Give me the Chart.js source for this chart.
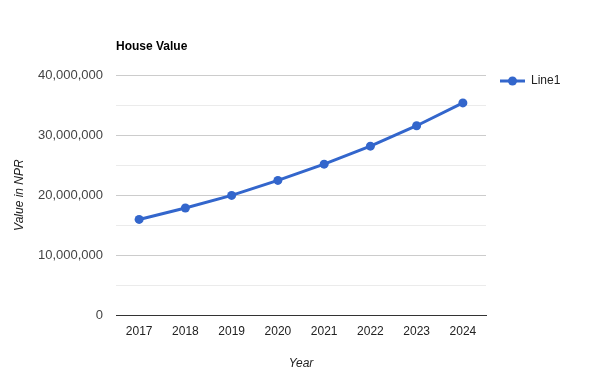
<!DOCTYPE html>
<html>
<head>
<meta charset="utf-8">
<script src="https://cdn.jsdelivr.net/npm/chart.js@4.4.0/dist/chart.umd.min.js"></script>
<style>
  html, body { margin: 0; padding: 0; background: #fff; }
  #wrap { width: 600px; height: 390px; }
</style>
</head>
<body>
<div id="wrap"><canvas id="lineChart" width="600" height="390"></canvas></div>
<script>
const years = ['2017', '2018', '2019', '2020', '2021', '2022', '2023', '2024'];
const houseValues = [15950000, 17850000, 19950000, 22450000, 25150000, 28150000, 31550000, 35350000];
const seriesName = 'Line1';
const chartTitle = 'House Value';

const FONT = 'Arial, "Liberation Sans", sans-serif';
const BLUE = '#3366cc';

// title and legend are drawn by hand so they line up like the original
const extras = {
  id: 'extras',
  afterDraw(chart) {
    const ctx = chart.ctx;
    const area = chart.chartArea;
    ctx.save();
    ctx.fillStyle = '#000';
    ctx.font = 'bold 12px ' + FONT;
    ctx.textBaseline = 'middle';
    ctx.fillText(chartTitle, area.left, 47);

    const lx = area.right + 14;
    const ly = area.top + 6;
    ctx.strokeStyle = BLUE;
    ctx.lineWidth = 3;
    ctx.beginPath();
    ctx.moveTo(lx, ly);
    ctx.lineTo(lx + 25, ly);
    ctx.stroke();
    ctx.fillStyle = BLUE;
    ctx.beginPath();
    ctx.arc(lx + 12.5, ly, 4.5, 0, Math.PI * 2);
    ctx.fill();
    ctx.fillStyle = '#222';
    ctx.font = '12px ' + FONT;
    ctx.fillText(seriesName, lx + 31, ly);
    ctx.restore();
  }
};

const ctx = document.getElementById('lineChart').getContext('2d');
new Chart(ctx, {
  type: 'line',
  data: {
    labels: years,
    datasets: [{
      label: seriesName,
      data: houseValues,
      borderColor: BLUE,
      backgroundColor: BLUE,
      pointBackgroundColor: BLUE,
      pointBorderWidth: 0,
      pointRadius: 4.5,
      borderWidth: 3,
      tension: 0
    }]
  },
  options: {
    responsive: false,
    animation: false,
    layout: { padding: { left: 12, right: 114, top: 75, bottom: 19 } },
    scales: {
      x: {
        offset: true,
        grid: { display: false, drawTicks: false },
        border: { display: true, color: '#333', width: 1 },
        ticks: { color: '#222', font: { family: FONT, size: 12 }, padding: 9 },
        title: {
          display: true,
          text: 'Year',
          color: '#222',
          font: { family: FONT, size: 12, style: 'italic' },
          padding: { top: 9, bottom: 0 }
        }
      },
      y: {
        min: 0,
        max: 40000000,
        afterFit: scale => { scale.width = 104; },
        border: { display: false },
        grid: {
          drawTicks: false,
          color: c => c.tick.value === 0 ? 'rgba(0,0,0,0)' : (c.tick.value % 10000000 === 0 ? '#cccccc' : '#ebebeb')
        },
        ticks: {
          stepSize: 5000000,
          padding: 13,
          color: '#444',
          font: { family: FONT, size: 13 },
          callback: v => v % 10000000 === 0 ? v.toLocaleString('en-US') : ''
        },
        title: {
          display: true,
          text: 'Value in NPR',
          color: '#222',
          font: { family: FONT, size: 12, style: 'italic' },
          padding: { top: 0, bottom: 11 }
        }
      }
    },
    plugins: {
      legend: { display: false },
      tooltip: { enabled: false }
    }
  },
  plugins: [extras]
});
</script>
</body>
</html>
